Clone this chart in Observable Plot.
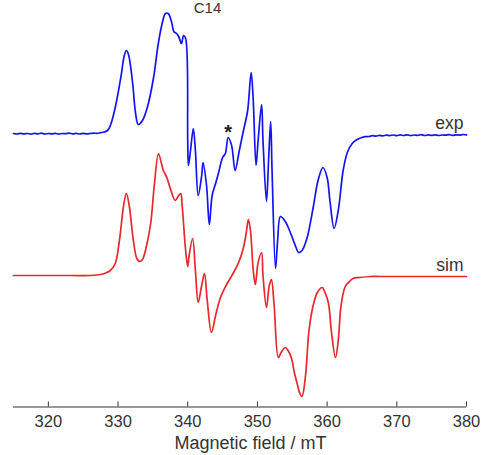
<!DOCTYPE html>
<html>
<head>
<meta charset="utf-8">
<script src="https://cdn.jsdelivr.net/npm/d3@7"></script>
<script src="https://cdn.jsdelivr.net/npm/@observablehq/plot@0.6"></script>
<style>
  html, body { margin: 0; padding: 0; background: #fff; }
  #chart svg { display: block; }
</style>
</head>
<body>
<div id="chart"></div>
<script>
// Magnetic field (mT) and intensity (a.u.) of the experimental spectrum
const expField = [
  315,315.5,316,316.5,317,317.5,318,318.5,319,319.5,320,320.5,321,321.5,322,322.5,323,323.5,324,324.5,325,325.5,326,326.5,327,327.5,328,
  328.5,328.9,329.6,330.4,330.9,331.2,331.5,332.1,332.5,332.9,333.5,334.2,335.1,335.8,336.4,336.8,337.2,337.7,338.0,338.4,338.7,339.1,339.4,339.7,
  340.0,340.1,340.4,340.8,341.1,341.5,342.0,342.2,342.7,343.1,343.5,344.0,344.4,345.0,345.4,345.8,346.3,346.8,347.4,348.0,348.6,349.1,349.4,349.8,
  350.1,350.6,350.8,351.3,351.6,351.9,352.1,352.6,352.9,353.3,353.9,354.3,355.0,355.6,355.9,356.4,357.1,358.0,358.7,359.4,360.0,360.4,361.0,361.6,
  362.3,362.9,363.6,364.3,
  365,365.5,366,366.5,367,367.5,368,368.5,369,369.5,370,370.5,371,371.5,372,372.5,373,373.5,374,374.5,375,375.5,376,376.5,377,377.5,378,378.5,379,379.5,380
];
const expIntensity = [
  1,0.5,1.2,0.6,1,0.4,1.1,0.7,1.3,0.5,1,0.6,1.2,0.4,1,0.8,1.3,0.6,1.1,0.5,1.2,0.7,1,1.4,1.1,1.8,2.5,
  4,9,27,57,79,84,80,51,22,10,14,27,57,92,113,121,121,112,103,101,98,91,99,96,
  -6,-31,-16,6,-16,-61,-41,-28,-51,-90,-61,-49,-39,-23,-19,-3,-11,-36,-16,4,24,62,34,-31,
  -6,30,-6,-67,-26,13,-36,-134,-106,-82,-86,-91,-103,-114,-118,-116,-104,-73,-46,-33,-43,-66,-94,-76,
  -36,-18,-9,-5,
  -3,-2.2,-2,-1.2,-1.6,-0.8,-1.3,-0.6,-1.1,-0.5,-1.2,-0.4,-1,-0.3,-1.1,-0.5,-0.9,-0.2,-1,-0.4,-0.8,-0.3,-1,-0.5,-0.7,-0.1,-0.9,-0.3,-0.6,0,-0.4
];

// Magnetic field (mT) and intensity (a.u.) of the simulated spectrum
const simField = [
  315,318.9,323.2,326.1,327.5,328.4,328.9,329.6,330.2,330.8,331.2,331.6,332.2,332.7,333.1,333.5,334.1,334.7,335.2,335.8,336.2,336.5,337.0,337.5,
  338.2,338.7,339.0,339.2,339.7,340.0,340.2,340.7,341.1,341.5,342.0,342.4,342.8,343.4,344.0,344.7,345.5,346.5,347.3,348.0,348.4,348.7,349.0,349.4,
  349.7,350.1,350.6,350.8,351.3,351.7,352.0,352.4,353.0,353.4,354.0,354.4,354.9,355.3,355.7,356.1,356.4,356.9,357.4,358.0,358.6,359.3,359.7,360.2,
  360.6,361.2,361.6,362.0,362.6,363.2,363.7,364.7,366.2,367.6,370.5,374.8,380
];
const simIntensity = [
  0,0,0,0,1,3,5,12,35,70,82,70,35,17,14,16,30,53,90,122,113,105,98,87,
  75,80,82,70,25,9,20,37,5,-27,-10,2,-25,-57,-40,-22,-10,2,13,28,43,56,45,5,
  -9,13,23,0,-32,-10,-4,-30,-82,-77,-72,-75,-83,-97,-108,-118,-121,-100,-55,-30,-17,-12,-17,-28,
  -55,-82,-65,-30,-11,-6,-3,-2,-1,-1,-1,-1,-1
];

// vertical offset of the experimental trace above the simulated one
const expOffset = 141;
const seriesNames = ["exp", "sim"];
const seriesColors = ["#1414f0", "#e8282c"];
const xTicks = [320, 330, 340, 350, 360, 370, 380];
const xDomain = [315, 380];
const yDomain = [-131.5, 275];
const markerField = [345.8];   // "*" impurity line in the experimental spectrum
const panelTitle = "C14";
const xLabel = "Magnetic field / mT";

const expData = expField.map((f, i) => ({field: f, value: expIntensity[i] + expOffset, series: "exp"}));
const simData = simField.map((f, i) => ({field: f, value: simIntensity[i], series: "sim"}));
const endLabels = [expData[expData.length - 1], simData[simData.length - 1]];
const markerData = markerField.map(m => {
  const p = expData.reduce((a, b) => Math.abs(b.field - m) < Math.abs(a.field - m) ? b : a);
  return {field: m, value: p.value};
});

const font = "'Liberation Sans', Arial, Helvetica, sans-serif";

const chart = Plot.plot({
  width: 485,
  height: 455,
  marginLeft: 13,
  marginRight: 19,
  marginTop: 0,
  marginBottom: 48.5,
  style: {fontFamily: font, background: "#fff", overflow: "hidden"},
  x: {domain: xDomain},
  y: {domain: yDomain, axis: null},
  color: {domain: seriesNames, range: seriesColors},
  marks: [
    Plot.ruleY([yDomain[0]], {stroke: "#333", strokeWidth: 1}),
    Plot.axisX({
      ticks: xTicks, tickSize: -5, tickPadding: 13, tickFormat: d => String(d),
      fontSize: 16.5, stroke: "#333", fill: "#333", label: null
    }),
    Plot.text([xLabel], {
      frameAnchor: "bottom", dx: 10.5, dy: 42, lineAnchor: "bottom",
      fontSize: 18, fill: "#333"
    }),
    Plot.lineY(simData, {x: "field", y: "value", stroke: "series", strokeWidth: 1.7, curve: "catmull-rom"}),
    Plot.lineY(expData, {x: "field", y: "value", stroke: "series", strokeWidth: 1.7, curve: "catmull-rom"}),
    Plot.text(endLabels, {
      x: "field", y: "value", text: "series", textAnchor: "end", lineAnchor: "bottom",
      dx: -3, dy: -6, fontSize: 17.5, fill: "#333"
    }),
    Plot.text(markerData, {
      x: "field", y: "value", text: () => "*", lineAnchor: "bottom", dy: 1,
      fontSize: 20, fontWeight: "bold", fill: "#222"
    }),
    Plot.text([panelTitle], {
      frameAnchor: "top", dx: -32.5, dy: 12, lineAnchor: "bottom",
      fontSize: 15, fill: "#333"
    })
  ]
});

document.getElementById("chart").appendChild(chart);
</script>
</body>
</html>
